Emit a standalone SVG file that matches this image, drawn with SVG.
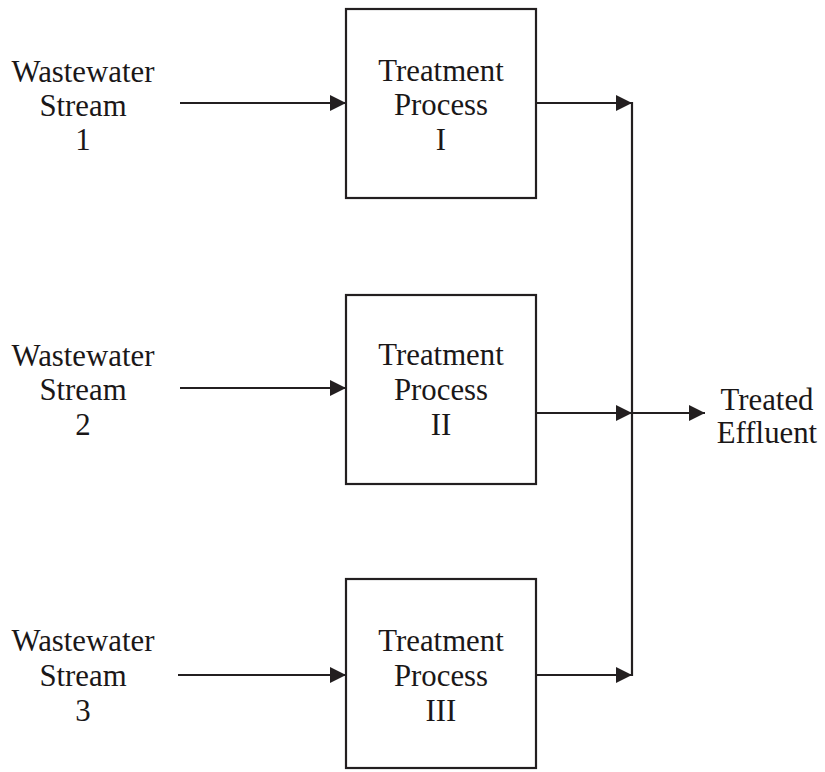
<svg xmlns="http://www.w3.org/2000/svg" width="825" height="772" viewBox="0 0 825 772">
  <defs>
    <style>
      .box { fill: #ffffff; stroke: #231f20; stroke-width: 2.2; }
      .flow { fill: none; stroke: #231f20; stroke-width: 2.2; }
      .arrow { marker-end: url(#head); }
      text { font-family: "Liberation Serif", "Times New Roman", serif; font-size: 30.8px; fill: #1a1718; text-anchor: middle; }
    </style>
    <marker id="head" markerUnits="userSpaceOnUse" markerWidth="17" markerHeight="17" refX="16" refY="8" orient="auto" viewBox="0 0 17 17">
      <path d="M0,0 L16,8 L0,16 Z" fill="#231f20"/>
    </marker>
  </defs>
  <rect width="825" height="772" fill="#ffffff"/>

  <!-- flows between streams, processes and the effluent -->
  <g id="connectors">
    <line class="flow arrow" x1="180" y1="103" x2="346" y2="103"/>
    <line class="flow arrow" x1="180" y1="388" x2="346" y2="388"/>
    <line class="flow arrow" x1="178" y1="675" x2="346" y2="675"/>
    <line class="flow arrow" x1="536" y1="103" x2="632" y2="103"/>
    <line class="flow arrow" x1="536" y1="413" x2="632" y2="413"/>
    <line class="flow arrow" x1="536" y1="675" x2="632" y2="675"/>
    <line class="flow" x1="632" y1="102" x2="632" y2="676"/>
    <line class="flow arrow" x1="632" y1="413" x2="705" y2="413"/>
  </g>

  <!-- incoming streams -->
  <g id="stream1">
    <text x="83" y="82">Wastewater</text>
    <text x="83" y="116">Stream</text>
    <text x="83" y="150">1</text>
  </g>
  <g id="stream2">
    <text x="83" y="366">Wastewater</text>
    <text x="83" y="400">Stream</text>
    <text x="83" y="435">2</text>
  </g>
  <g id="stream3">
    <text x="83" y="651">Wastewater</text>
    <text x="83" y="686">Stream</text>
    <text x="83" y="721">3</text>
  </g>

  <!-- treatment processes -->
  <g id="process1">
    <rect class="box" x="346" y="9" width="190" height="189"/>
    <text x="441" y="81">Treatment</text>
    <text x="441" y="115">Process</text>
    <text x="441" y="150">I</text>
  </g>
  <g id="process2">
    <rect class="box" x="346" y="295" width="190" height="189"/>
    <text x="441" y="365">Treatment</text>
    <text x="441" y="400">Process</text>
    <text x="441" y="435">II</text>
  </g>
  <g id="process3">
    <rect class="box" x="346" y="579" width="190" height="189"/>
    <text x="441" y="651">Treatment</text>
    <text x="441" y="686">Process</text>
    <text x="441" y="721">III</text>
  </g>

  <!-- combined outlet -->
  <g id="effluent">
    <text x="767" y="410">Treated</text>
    <text x="767" y="443">Effluent</text>
  </g>
</svg>
